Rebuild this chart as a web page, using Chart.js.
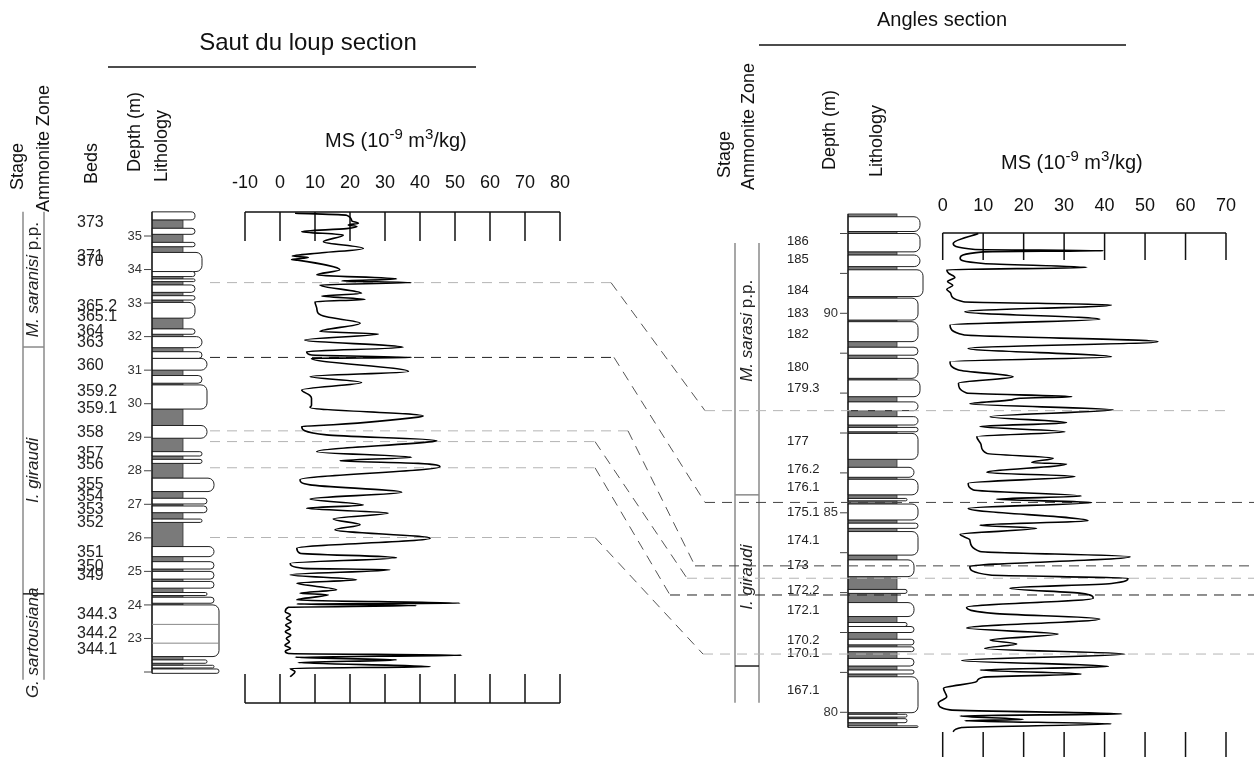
<!DOCTYPE html>
<html>
<head>
<meta charset="utf-8">
<title>MS correlation - Saut du loup / Angles</title>
<script src="https://cdn.jsdelivr.net/npm/chart.js@4.4.1/dist/chart.umd.min.js"></script>
<style>
    html, body { margin: 0; padding: 0; background: #fff; }
    #wrap { position: relative; width: 1254px; height: 757px; }
</style>
</head>
<body>
<div id="wrap"><canvas id="chart" width="1254" height="757"></canvas></div>
<script>
// ---- Saut du loup: MS curve (depth m, MS 10-9 m3/kg) ----
const sautDepth = [35.68, 35.62, 35.45, 35.38, 35.33, 35.28, 35.22, 35.13, 35.03, 34.83, 34.63, 34.50, 34.40, 34.36, 34.30, 34.28,
    33.99, 33.84, 33.72, 33.66, 33.61, 33.54, 33.29, 33.21, 33.11, 33.04, 32.85, 32.70, 32.59, 32.40, 32.15, 32.08,
    31.90, 31.68, 31.55, 31.45, 31.38, 31.35, 30.96, 30.81, 30.63, 30.41, 30.25, 30.16, 29.95, 29.89, 29.63, 29.60,
    29.37, 29.32, 29.07, 28.90, 28.87, 28.57, 28.40, 28.30, 28.22, 28.12, 27.73, 27.58, 27.36, 27.16, 26.98, 26.88,
    26.74, 26.56, 26.39, 26.24, 25.99, 25.69, 25.54, 25.41, 25.24, 25.09, 25.05, 24.90, 24.75, 24.65, 24.45, 24.35,
    24.30, 24.15, 24.05, 24.03, 23.98, 23.93, 23.80, 23.70, 23.60, 23.50, 23.40, 23.30, 23.20, 23.10, 23.00, 22.90,
    22.80, 22.70, 22.62, 22.55, 22.50, 22.44, 22.36, 22.28, 22.16, 22.11, 22.01, 21.86];
const sautMS = [4.3, 19.0, 20.5, 22.4, 19.5, 22.0, 19.0, 6.2, 18.1, 12.4, 23.8, 12.0, 3.5, 8.1, 3.3, 5.0,
    17.1, 10.5, 33.3, 17.6, 37.6, 11.4, 23.3, 11.9, 24.3, 10.0, 10.5, 10.9, 13.3, 22.9, 11.4, 28.1,
    7.1, 35.2, 7.6, 9.0, 37.6, 9.0, 36.7, 8.6, 23.3, 6.2, 8.5, 9.0, 9.0, 8.6, 40.9, 39.5,
    15.2, 6.2, 13.3, 44.8, 43.5, 10.5, 37.6, 17.1, 39.5, 45.7, 5.7, 8.6, 34.8, 8.6, 23.8, 7.6,
    30.9, 15.2, 22.9, 15.7, 42.9, 4.8, 5.7, 33.3, 2.9, 6.7, 31.4, 2.9, 21.9, 4.8, 16.2, 5.7,
    13.8, 4.8, 51.4, 4.8, 39.0, 2.4, 1.5, 3.0, 1.8, 3.2, 1.6, 2.9, 1.5, 3.1, 1.8, 2.7,
    1.4, 3.0, 1.5, 2.4, 51.9, 4.3, 33.3, 5.2, 42.9, 2.9, 4.3, 2.9];

// ---- Angles: MS curve ----
const angDepth = [92.00, 91.75, 91.60, 91.57, 91.54, 91.38, 91.25, 91.15, 91.09, 91.00, 90.90, 90.80, 90.70, 90.60, 90.50, 90.29,
    90.21, 90.04, 89.85, 89.71, 89.46, 89.29, 89.12, 88.91, 88.79, 88.58, 88.41, 88.25, 88.00, 87.91, 87.87, 87.83,
    87.73, 87.58, 87.41, 87.26, 87.16, 87.03, 86.91, 86.70, 86.49, 86.37, 86.26, 86.22, 86.01, 85.91, 85.74, 85.57,
    85.42, 85.34, 85.26, 85.11, 84.80, 84.69, 84.61, 84.46, 84.32, 84.03, 83.90, 83.65, 83.44, 83.36, 83.23, 83.11,
    82.98, 82.86, 82.63, 82.48, 82.34, 82.11, 81.96, 81.81, 81.71, 81.60, 81.46, 81.30, 81.15, 81.06, 80.96, 80.88,
    80.77, 80.60, 80.39, 80.23, 80.06, 79.96, 79.91, 79.82, 79.79, 79.71, 79.62, 79.51];
const angMS = [8.8, 2.6, 8.0, 39.7, 10.0, 4.3, 10.0, 35.6, 1.0, 1.5, 3.0, 1.2, 2.5, 1.0, 2.0, 5.1,
    41.7, 5.5, 38.8, 1.8, 5.1, 53.2, 6.3, 41.7, 1.8, 3.9, 17.4, 3.9, 5.9, 31.9, 19.1, 17.0,
    6.7, 42.1, 11.7, 30.6, 9.2, 30.2, 8.4, 9.5, 10.9, 27.3, 22.0, 30.6, 10.9, 32.7, 6.3, 7.6,
    34.3, 13.3, 36.8, 6.3, 35.9, 9.2, 23.2, 4.3, 6.7, 9.2, 46.3, 6.7, 11.7, 45.8, 41.7, 16.6,
    34.3, 37.2, 5.9, 12.5, 38.8, 5.9, 28.5, 11.7, 18.3, 10.4, 45.0, 4.7, 40.9, 9.2, 34.3, 10.0,
    8.4, 0.2, 1.0, -1.1, 1.8, 44.2, 4.3, 19.9, 5.5, 41.7, 4.7, 2.6];

// ---- axes ----
const sautMSTicks = [-10, 0, 10, 20, 30, 40, 50, 60, 70, 80];
const angMSTicks = [0, 10, 20, 30, 40, 50, 60, 70];
const sautDepthTicks = [35, 34, 33, 32, 31, 30, 29, 28, 27, 26, 25, 24, 23, 22];
const sautDepthLabels = ['35', '34', '33', '32', '31', '30', '29', '28', '27', '26', '25', '24', '23', ''];
const angDepthTicks = [92, 91, 90, 89, 88, 87, 86, 85, 84, 83, 82, 81, 80];
const angDepthLabels = ['', '', '90', '', '', '', '', '85', '', '', '', '', '80'];

// ---- beds (names at depth) ----
const sautBedNames = ['373', '371', '370', '365.2', '365.1', '364', '363', '360', '359.2', '359.1', '358', '357', '356',
    '355', '354', '353', '352', '351', '350', '349', '344.3', '344.2', '344.1'];
const sautBedDepths = [35.4, 34.40, 34.23, 32.91, 32.59, 32.15, 31.82, 31.13, 30.36, 29.86, 29.14, 28.52, 28.17,
    27.58, 27.23, 26.85, 26.44, 25.56, 25.14, 24.87, 23.70, 23.16, 22.68];
const angBedNames = ['186', '185', '184', '183', '182', '180', '179.3', '177', '176.2', '176.1', '175.1', '174.1',
    '173', '172.2', '172.1', '170.2', '170.1', '167.1'];
const angBedDepths = [91.79, 91.35, 90.58, 90.00, 89.46, 88.65, 88.12, 86.78, 86.09, 85.64, 85.00, 84.32,
    83.67, 83.05, 82.56, 81.81, 81.48, 80.54];

// ---- lithology: [top, base, kind] M = marl, others = limestone by weathering width ----
const sautBeds = [
    [35.72, 35.48, 'l'], [35.48, 35.23, 'M'], [35.23, 35.05, 'l'], [35.05, 34.81, 'M'], [34.81, 34.68, 'l'], [34.68, 34.51, 'M'],
    [34.51, 33.94, 'L'], [33.94, 33.79, 'l'], [33.79, 33.72, 'M'], [33.72, 33.64, 'l'], [33.64, 33.54, 'M'], [33.54, 33.32, 'l'],
    [33.32, 33.22, 'M'], [33.22, 33.09, 'l'], [33.09, 33.02, 'M'], [33.02, 32.55, 'l'], [32.55, 32.23, 'M'], [32.23, 32.07, 'l'],
    [32.07, 32.00, 'M'], [32.00, 31.67, 'L'], [31.67, 31.55, 'M'], [31.55, 31.35, 'L'], [31.35, 31.00, 'W'], [31.00, 30.84, 'M'],
    [30.84, 30.61, 'L'], [30.61, 30.56, 'M'], [30.56, 29.84, 'W'], [29.84, 29.35, 'M'], [29.35, 28.97, 'W'], [28.97, 28.57, 'M'],
    [28.57, 28.44, 'L'], [28.44, 28.34, 'M'], [28.34, 28.22, 'L'], [28.22, 27.78, 'M'], [27.78, 27.38, 'X'], [27.38, 27.18, 'M'],
    [27.18, 27.01, 'W'], [27.01, 26.95, 'M'], [26.95, 26.75, 'W'], [26.75, 26.56, 'M'], [26.56, 26.46, 'L'], [26.46, 25.74, 'M'],
    [25.74, 25.44, 'X'], [25.44, 25.29, 'M'], [25.29, 25.07, 'X'], [25.07, 25.00, 'M'], [25.00, 24.77, 'X'], [24.77, 24.70, 'M'],
    [24.70, 24.50, 'X'], [24.50, 24.37, 'M'], [24.37, 24.28, 'W'], [24.28, 24.23, 'M'], [24.23, 24.05, 'X'], [24.05, 24.00, 'M'],
    [24.00, 22.46, 'Z'], [22.46, 22.36, 'M'], [22.36, 22.26, 'W'], [22.26, 22.20, 'M'], [22.20, 22.12, 'X'], [22.12, 22.09, 'M'],
    [22.09, 21.96, 'Z']
];
const sautInnerLines = [23.42, 22.86];
const angBeds = [
    [92.49, 92.42, 'M'], [92.42, 92.05, 'W'], [92.05, 92.00, 'M'], [92.00, 91.54, 'W'], [91.54, 91.46, 'M'], [91.46, 91.17, 'W'],
    [91.17, 91.09, 'M'], [91.09, 90.42, 'X'], [90.42, 90.38, 'M'], [90.38, 89.83, 'L'], [89.83, 89.79, 'M'], [89.79, 89.29, 'L'],
    [89.29, 89.15, 'M'], [89.15, 88.95, 'L'], [88.95, 88.87, 'M'], [88.87, 88.37, 'L'], [88.37, 88.33, 'M'], [88.33, 87.91, 'W'],
    [87.91, 87.78, 'M'], [87.78, 87.56, 'L'], [87.56, 87.41, 'M'], [87.41, 87.20, 'L'], [87.20, 87.14, 'M'], [87.14, 87.03, 'L'],
    [87.03, 86.99, 'M'], [86.99, 86.34, 'L'], [86.34, 86.14, 'M'], [86.14, 85.89, 'n'], [85.89, 85.84, 'M'], [85.84, 85.45, 'L'],
    [85.45, 85.36, 'M'], [85.36, 85.30, 'l'], [85.30, 85.22, 'M'], [85.22, 84.82, 'L'], [84.82, 84.74, 'M'], [84.74, 84.61, 'L'],
    [84.61, 84.53, 'M'], [84.53, 83.94, 'L'], [83.94, 83.82, 'M'], [83.82, 83.40, 'n'], [83.40, 83.08, 'M'], [83.08, 82.98, 'l'],
    [82.98, 82.75, 'M'], [82.75, 82.40, 'n'], [82.40, 82.25, 'M'], [82.25, 82.15, 'l'], [82.15, 82.00, 'n'], [82.00, 81.83, 'M'],
    [81.83, 81.69, 'n'], [81.69, 81.64, 'M'], [81.64, 81.52, 'n'], [81.52, 81.35, 'M'], [81.35, 81.16, 'n'], [81.16, 81.06, 'M'],
    [81.06, 80.96, 'n'], [80.96, 80.89, 'M'], [80.89, 79.99, 'L'], [79.99, 79.95, 'M'], [79.95, 79.88, 'l'], [79.88, 79.84, 'M'],
    [79.84, 79.74, 'l'], [79.74, 79.66, 'M'], [79.66, 79.62, 'L']
];

// ---- ammonite zones ----
const sautZoneNames = ['M. saranisi p.p.', 'I. giraudi', 'G. sartousiana'];
const sautZoneTops = [35.72, 31.69, 24.33];
const sautZoneBases = [31.69, 24.33, 21.77];
const sautZoneLabelDepths = [33.70, 28.01, 22.87];
const angZoneNames = ['M. sarasi p.p.', 'I. giraudi', ''];
const angZoneTops = [91.76, 85.45, 81.16];
const angZoneBases = [85.45, 81.16, 80.24];
const angZoneLabelDepths = [89.56, 83.39, 80.7];

// ---- correlation levels (Saut du loup depth <-> Angles depth) ----
const corrSaut = [33.61, 31.38, 29.19, 28.87, 28.09, 26.01];
const corrAngles = [87.56, 85.26, 83.67, 83.36, 82.94, 81.46];

// ---- layout / style ----
const FONT = "'Liberation Sans', Arial, sans-serif";
const GREY = '#b4b4b4';
const corrLeftColor = [GREY, '#222', GREY, GREY, GREY, GREY];
const corrRightColor = [GREY, '#444', '#444', GREY, '#222', GREY];
const corrBendLeft = [611, 614, 628, 595, 595, 595];
const corrBendRight = [705, 705, 695, 687, 670, 703];
const corrRightEnd = [1230, 1254, 1254, 1254, 1254, 1254];

const sautWidths = { M: 31, l: 43, L: 50, W: 55, X: 62, Z: 67 };
const angWidths = { M: 49, l: 59, n: 66, L: 70, W: 72, X: 75 };

function fitX(v0, p0, v1, p1, size) {
    const k = (p1 - p0) / (v1 - v0);
    const min = v0 - p0 / k;
    return { min: min, max: min + size / k };
}

function fitY(v0, p0, v1, p1, size) {
    const k = (p1 - p0) / (v0 - v1);
    const min = v0 - (size - p0) / k;
    return { min: min, max: min + size / k };
}

const W = 1254, H = 757;
const xS = fitX(-10, 245, 80, 560, W);
const yS = fitY(35, 236, 22, 672, H);
const xA = fitX(0, 942.7, 70, 1226, W);
const yA = fitY(90, 313.3, 80, 712.3, H);

function line(ctx, x0, y0, x1, y1) {
    ctx.beginPath();
    ctx.moveTo(x0, y0);
    ctx.lineTo(x1, y1);
    ctx.stroke();
}

function vText(ctx, text, x, yBottom, size) {
    ctx.save();
    ctx.translate(x, yBottom);
    ctx.rotate(-Math.PI / 2);
    ctx.font = size + 'px ' + FONT;
    ctx.fillStyle = '#111';
    ctx.textAlign = 'left';
    ctx.textBaseline = 'middle';
    ctx.fillText(text, 0, 0);
    ctx.restore();
}

function zoneLabel(ctx, name, cx, cy, size) {
    const parts = name.endsWith(' p.p.') ? [[name.slice(0, -5), true], [' p.p.', false]] : [[name, true]];
    ctx.save();
    ctx.translate(cx, cy);
    ctx.rotate(-Math.PI / 2);
    ctx.textAlign = 'left';
    ctx.textBaseline = 'middle';
    ctx.fillStyle = '#222';
    let total = 0;
    parts.forEach(p => {
        ctx.font = (p[1] ? 'italic ' : '') + size + 'px ' + FONT;
        total += ctx.measureText(p[0]).width;
    });
    let x = -total / 2;
    parts.forEach(p => {
        ctx.font = (p[1] ? 'italic ' : '') + size + 'px ' + FONT;
        ctx.fillText(p[0], x, 0);
        x += ctx.measureText(p[0]).width;
    });
    ctx.restore();
}

function msLabel(ctx, x, y) {
    const parts = [['MS (10', 20, 0], ['-9', 15, -8], [' m', 20, 0], ['3', 15, -8], ['/kg)', 20, 0]];
    ctx.save();
    ctx.fillStyle = '#111';
    ctx.textAlign = 'left';
    ctx.textBaseline = 'alphabetic';
    parts.forEach(p => {
        ctx.font = p[1] + 'px ' + FONT;
        ctx.fillText(p[0], x, y + p[2]);
        x += ctx.measureText(p[0]).width;
    });
    ctx.restore();
}

function drawComb(ctx, xScale, ticks, yLine, yTickEnd, labelY) {
    ctx.save();
    ctx.strokeStyle = '#111';
    ctx.lineWidth = 1.5;
    const x0 = xScale.getPixelForValue(ticks[0]);
    const x1 = xScale.getPixelForValue(ticks[ticks.length - 1]);
    line(ctx, x0, yLine, x1, yLine);
    ticks.forEach(t => {
        const x = xScale.getPixelForValue(t);
        line(ctx, x, yLine, x, yTickEnd);
    });
    if (labelY !== null) {
        ctx.font = '18px ' + FONT;
        ctx.fillStyle = '#111';
        ctx.textAlign = 'center';
        ctx.textBaseline = 'middle';
        ticks.forEach(t => ctx.fillText(String(t), xScale.getPixelForValue(t), labelY));
    }
    ctx.restore();
}

function drawDepthAxis(ctx, yScale, ticks, labels, xCol, size) {
    ctx.save();
    ctx.strokeStyle = '#444';
    ctx.lineWidth = 1;
    ctx.font = size + 'px ' + FONT;
    ctx.fillStyle = '#333';
    ctx.textAlign = 'right';
    ctx.textBaseline = 'middle';
    ticks.forEach((t, i) => {
        const y = yScale.getPixelForValue(t);
        line(ctx, xCol - 8, y, xCol, y);
        if (labels[i]) ctx.fillText(labels[i], xCol - 10, y);
    });
    ctx.restore();
}

function drawBeds(ctx, yScale, left, beds, widths) {
    ctx.save();
    beds.filter(b => b[2] === 'M').forEach(b => {
        const y0 = yScale.getPixelForValue(b[0]);
        const y1 = yScale.getPixelForValue(b[1]);
        ctx.fillStyle = '#7a7a7a';
        ctx.fillRect(left, y0, widths.M, y1 - y0);
        ctx.strokeStyle = '#333';
        ctx.lineWidth = 0.8;
        ctx.strokeRect(left, y0, widths.M, y1 - y0);
    });
    beds.filter(b => b[2] !== 'M').forEach(b => {
        const y0 = yScale.getPixelForValue(b[0]);
        const y1 = yScale.getPixelForValue(b[1]);
        const w = widths[b[2]];
        const r = Math.min(6, (y1 - y0) / 2);
        ctx.beginPath();
        ctx.moveTo(left, y0);
        ctx.lineTo(left + w - r, y0);
        ctx.arcTo(left + w, y0, left + w, y0 + r, r);
        ctx.lineTo(left + w, y1 - r);
        ctx.arcTo(left + w, y1, left + w - r, y1, r);
        ctx.lineTo(left, y1);
        ctx.closePath();
        ctx.fillStyle = '#fff';
        ctx.fill();
        ctx.strokeStyle = '#222';
        ctx.lineWidth = 1;
        ctx.stroke();
    });
    const top = yScale.getPixelForValue(beds[0][0]);
    const bot = yScale.getPixelForValue(beds[beds.length - 1][1]);
    ctx.strokeStyle = '#111';
    ctx.lineWidth = 1.2;
    line(ctx, left, top, left, bot);
    ctx.restore();
}

function drawBedNames(ctx, yScale, names, depths, x, size) {
    ctx.save();
    ctx.font = size + 'px ' + FONT;
    ctx.fillStyle = '#222';
    ctx.textAlign = 'left';
    ctx.textBaseline = 'middle';
    names.forEach((n, i) => ctx.fillText(n, x, yScale.getPixelForValue(depths[i])));
    ctx.restore();
}

function drawZones(ctx, yScale, xL, xR, names, tops, bases, labelDepths, size) {
    ctx.save();
    const top = yScale.getPixelForValue(tops[0]);
    const bot = yScale.getPixelForValue(bases[bases.length - 1]);
    ctx.strokeStyle = '#8a8a8a';
    ctx.lineWidth = 1.5;
    line(ctx, xL, top, xL, bot);
    line(ctx, xR, top, xR, bot);
    tops.forEach((t, i) => {
        if (i === 0) return;
        const y = yScale.getPixelForValue(t);
        ctx.strokeStyle = i === tops.length - 1 ? '#222' : '#8a8a8a';
        line(ctx, xL, y, xR, y);
    });
    names.forEach((n, i) => {
        if (n) zoneLabel(ctx, n, (xL + xR) / 2, yScale.getPixelForValue(labelDepths[i]), size);
    });
    ctx.restore();
}

function drawCorrelations(ctx, sY, aY) {
    ctx.save();
    ctx.lineWidth = 1;
    ctx.setLineDash([10, 7]);
    corrSaut.forEach((d, i) => {
        const y0 = sY.getPixelForValue(d);
        const y1 = aY.getPixelForValue(corrAngles[i]);
        ctx.strokeStyle = corrLeftColor[i];
        line(ctx, 210, y0, corrBendLeft[i], y0);
        ctx.strokeStyle = '#555';
        line(ctx, corrBendLeft[i], y0, corrBendRight[i], y1);
        ctx.strokeStyle = corrRightColor[i];
        line(ctx, corrBendRight[i], y1, corrRightEnd[i], y1);
    });
    ctx.restore();
}

const sectionPlugin = {
    id: 'sections',
    beforeDatasetsDraw(chart) {
        const ctx = chart.ctx;
        const s = chart.scales;

        // titles
        ctx.save();
        ctx.fillStyle = '#111';
        ctx.textAlign = 'center';
        ctx.textBaseline = 'middle';
        ctx.font = '24px ' + FONT;
        ctx.fillText('Saut du loup section', 308, 43);
        ctx.font = '20px ' + FONT;
        ctx.fillText('Angles section', 942, 20);
        ctx.strokeStyle = '#111';
        ctx.lineWidth = 1.5;
        line(ctx, 108, 67, 476, 67);
        line(ctx, 759, 45, 1126, 45);
        ctx.restore();

        // column headers
        vText(ctx, 'Stage', 18, 190, 18);
        vText(ctx, 'Ammonite Zone', 44, 212, 18);
        vText(ctx, 'Beds', 92, 184, 18);
        vText(ctx, 'Depth (m)', 135, 172, 18);
        vText(ctx, 'Lithology', 162, 182, 18);
        vText(ctx, 'Stage', 725, 178, 18);
        vText(ctx, 'Ammonite Zone', 749, 190, 18);
        vText(ctx, 'Depth (m)', 830, 170, 18);
        vText(ctx, 'Lithology', 877, 177, 18);

        msLabel(ctx, 325, 147);
        msLabel(ctx, 1001, 169);

        drawComb(ctx, s.xS, sautMSTicks, 212, 241, 183);
        drawComb(ctx, s.xS, sautMSTicks, 703, 674, null);
        drawComb(ctx, s.xA, angMSTicks, 233, 260, 206);
        drawComb(ctx, s.xA, angMSTicks, 762, 732, null);

        drawZones(ctx, s.yS, 23, 44, sautZoneNames, sautZoneTops, sautZoneBases, sautZoneLabelDepths, 17);
        drawZones(ctx, s.yA, 735, 759, angZoneNames, angZoneTops, angZoneBases, angZoneLabelDepths, 17);

        drawBeds(ctx, s.yS, 152, sautBeds, sautWidths);
        ctx.save();
        ctx.strokeStyle = '#888';
        ctx.lineWidth = 1;
        sautInnerLines.forEach(d => {
            const y = s.yS.getPixelForValue(d);
            line(ctx, 152, y, 152 + sautWidths.Z, y);
        });
        ctx.restore();
        drawBeds(ctx, s.yA, 848, angBeds, angWidths);

        drawDepthAxis(ctx, s.yS, sautDepthTicks, sautDepthLabels, 152, 13);
        drawDepthAxis(ctx, s.yA, angDepthTicks, angDepthLabels, 848, 13);

        drawBedNames(ctx, s.yS, sautBedNames, sautBedDepths, 77, 16);
        drawBedNames(ctx, s.yA, angBedNames, angBedDepths, 787, 13);

        drawCorrelations(ctx, s.yS, s.yA);
    }
};

function toPoints(depths, values) {
    return depths.map((d, i) => ({ x: values[i], y: d }));
}

new Chart(document.getElementById('chart'), {
    type: 'scatter',
    data: {
        datasets: [
            {
                label: 'Saut du loup',
                data: toPoints(sautDepth, sautMS),
                xAxisID: 'xS', yAxisID: 'yS',
                indexAxis: 'y',
                showLine: true, borderColor: '#000', borderWidth: 1.6,
                pointRadius: 0, cubicInterpolationMode: 'monotone', fill: false
            },
            {
                label: 'Angles',
                data: toPoints(angDepth, angMS),
                xAxisID: 'xA', yAxisID: 'yA',
                indexAxis: 'y',
                showLine: true, borderColor: '#000', borderWidth: 1.6,
                pointRadius: 0, cubicInterpolationMode: 'monotone', fill: false
            }
        ]
    },
    options: {
        responsive: false,
        animation: false,
        layout: { padding: 0 },
        plugins: { legend: { display: false }, tooltip: { enabled: false } },
        scales: {
            xS: { type: 'linear', axis: 'x', display: false, min: xS.min, max: xS.max },
            yS: { type: 'linear', axis: 'y', display: false, min: yS.min, max: yS.max },
            xA: { type: 'linear', axis: 'x', display: false, min: xA.min, max: xA.max },
            yA: { type: 'linear', axis: 'y', display: false, min: yA.min, max: yA.max }
        }
    },
    plugins: [sectionPlugin]
});
</script>
</body>
</html>
